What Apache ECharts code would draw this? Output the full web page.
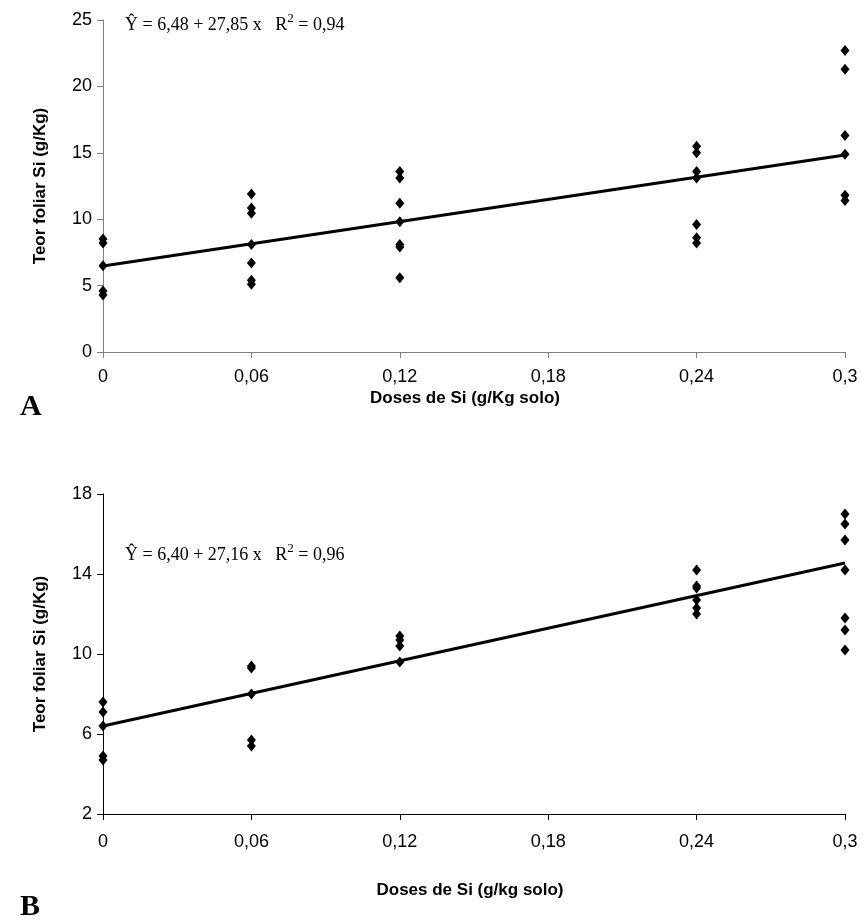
<!DOCTYPE html>
<html><head><meta charset="utf-8">
<script src="https://cdn.jsdelivr.net/npm/echarts@6/dist/echarts.min.js"></script>
<style>html,body{margin:0;padding:0;background:#fff}#c{width:866px;height:924px}</style>
</head><body><div id="c"></div>
<script>
// Doses (g/Kg solo)
const dosesA = [0, 0.06, 0.12, 0.24, 0.3];
// Panel A observed values per dose
const obsA0 = [8.5, 8.2, 6.5, 4.6, 4.3];
const obsA006 = [11.9, 10.85, 10.45, 8.1, 6.7, 5.4, 5.1];
const obsA012 = [13.6, 13.1, 11.2, 9.8, 8.1, 7.9, 5.6];
const obsA024 = [15.5, 15.0, 13.6, 13.1, 9.6, 8.6, 8.2];
const obsA03 = [22.7, 21.3, 16.3, 14.9, 11.8, 11.4];
const coefA = [6.48, 27.85];
const r2A = 0.94;
// Panel B observed values per dose
const obsB0 = [7.6, 7.1, 6.4, 4.9, 4.7];
const obsB006 = [9.4, 9.3, 8.0, 5.7, 5.4];
const obsB012 = [10.9, 10.7, 10.4, 9.6];
const obsB024 = [14.2, 13.4, 13.3, 12.7, 12.3, 12.0];
const obsB03 = [17.0, 16.5, 15.7, 14.2, 11.8, 11.2, 10.2];
const coefB = [6.40, 27.16];
const r2B = 0.96;
const xTicks = [0, 0.06, 0.12, 0.18, 0.24, 0.3];
const yTicksA = [0, 5, 10, 15, 20, 25];
const yTicksB = [2, 6, 10, 14, 18];

function pts(doses, groups){
  const out=[];
  doses.forEach((d,i)=>groups[i].forEach(v=>out.push([d,v])));
  return out;
}
const ptsA = pts(dosesA,[obsA0,obsA006,obsA012,obsA024,obsA03]);
const ptsB = pts(dosesA,[obsB0,obsB006,obsB012,obsB024,obsB03]);
const lineA = [xTicks[0], xTicks[xTicks.length-1]].map(x=>[x, coefA[0]+coefA[1]*x]);
const lineB = [xTicks[0], xTicks[xTicks.length-1]].map(x=>[x, coefB[0]+coefB[1]*x]);

function fmt(v){ return String(+v.toFixed(2)).replace('.', ','); }
function fmt2(v){ return v.toFixed(2).replace('.', ','); }
const F = 'Liberation Sans, Arial, sans-serif';
const SERIF = 'Liberation Serif, Times New Roman, serif';

function xAxis(gi, color, margin){
  return {type:'value', gridIndex:gi, min:0, max:0.3, interval:0.06,
    axisLine:{show:true,lineStyle:{color:color,width:1}},
    axisTick:{show:true,inside:false,length:6,lineStyle:{color:color}},
    axisLabel:{color:'#000',fontSize:18,fontFamily:F,margin:margin,formatter:fmt},
    splitLine:{show:false}};
}
function yAxis(gi, ticks, color){
  return {type:'value', gridIndex:gi, min:ticks[0], max:ticks[ticks.length-1], interval:ticks[1]-ticks[0],
    axisLine:{show:true,lineStyle:{color:color,width:1}},
    axisTick:{show:true,inside:false,length:6,lineStyle:{color:color}},
    axisLabel:{color:'#000',fontSize:18,fontFamily:F,margin:11},
    splitLine:{show:false}};
}
function eq(c, r2){
  return '{t|Ŷ = '+fmt2(c[0])+' + '+fmt2(c[1])+' x   R}{s|2}{t| = '+fmt2(r2)+'}';
}
const eqRich = {t:{font:'18px '+SERIF,fill:'#000',verticalAlign:'bottom',lineHeight:22},
                s:{font:'13px '+SERIF,fill:'#000',verticalAlign:'top',lineHeight:22,padding:[0,0,10,0]}};
const chart = echarts.init(document.getElementById('c'));
chart.setOption({
  animation:false,
  backgroundColor:'#fff',
  grid:[{left:103,width:742,top:20,height:332},{left:103,width:742,top:494,height:320}],
  xAxis:[xAxis(0,'#808080',16), xAxis(1,'#000',19)],
  yAxis:[yAxis(0,yTicksA,'#808080'), yAxis(1,yTicksB,'#000')],
  series:[
    {type:'line',xAxisIndex:0,yAxisIndex:0,data:lineA,symbol:'none',lineStyle:{color:'#000',width:3},z:2},
    {type:'scatter',xAxisIndex:0,yAxisIndex:0,data:ptsA,symbol:'diamond',symbolSize:[9,11],itemStyle:{color:'#000',opacity:1},z:3},
    {type:'line',xAxisIndex:1,yAxisIndex:1,data:lineB,symbol:'none',lineStyle:{color:'#000',width:3},z:2},
    {type:'scatter',xAxisIndex:1,yAxisIndex:1,data:ptsB,symbol:'diamond',symbolSize:[9,11],itemStyle:{color:'#000',opacity:1},z:3}
  ],
  graphic:[
    {type:'text',x:40,y:186,rotation:Math.PI/2,style:{text:'Teor foliar Si (g/Kg)',font:'bold 17px '+F,fill:'#000',align:'center',verticalAlign:'middle'}},
    {type:'text',x:40,y:654,rotation:Math.PI/2,style:{text:'Teor foliar Si (g/Kg)',font:'bold 17px '+F,fill:'#000',align:'center',verticalAlign:'middle'}},
    {type:'text',x:465,y:398,style:{text:'Doses de Si (g/Kg solo)',font:'bold 17px '+F,fill:'#000',align:'center',verticalAlign:'middle'}},
    {type:'text',x:470,y:890,style:{text:'Doses de Si (g/kg solo)',font:'bold 17px '+F,fill:'#000',align:'center',verticalAlign:'middle'}},
    {type:'text',x:20,y:407,style:{text:'A',font:'bold 30px '+SERIF,fill:'#000',align:'left',verticalAlign:'middle'}},
    {type:'text',x:20,y:907,style:{text:'B',font:'bold 30px '+SERIF,fill:'#000',align:'left',verticalAlign:'middle'}},
    {type:'text',x:125,y:23,style:{text:eq(coefA,r2A),rich:eqRich,align:'left',verticalAlign:'middle'}},
    {type:'text',x:125,y:553,style:{text:eq(coefB,r2B),rich:eqRich,align:'left',verticalAlign:'middle'}}
  ]
});
</script></body></html>
